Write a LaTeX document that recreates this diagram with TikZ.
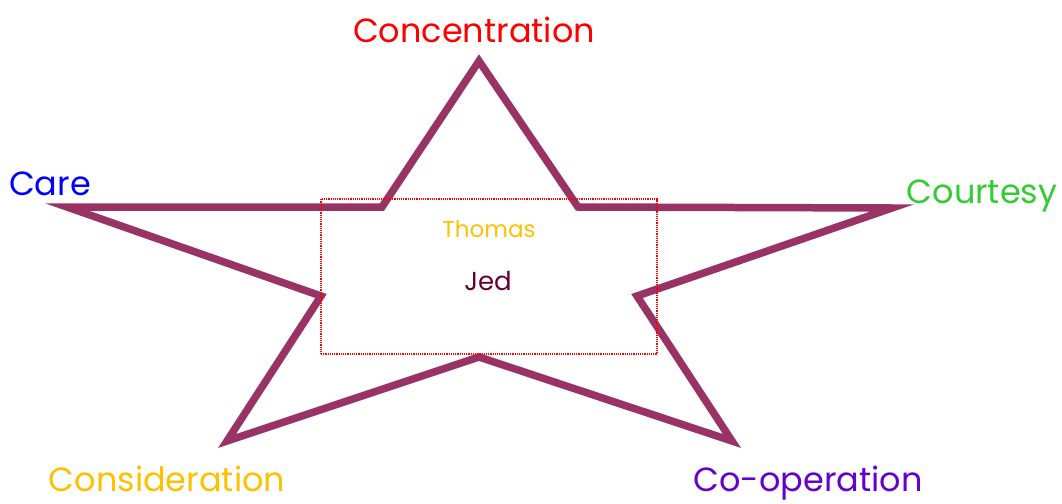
\documentclass[tikz,border=0pt]{standalone}
\usepackage{fontspec}
\setmainfont{Poppins}
\definecolor{starc}{HTML}{993366}
\definecolor{cgreen}{HTML}{33CC33}
\definecolor{cgold}{HTML}{FFC000}
\definecolor{cpurple}{HTML}{6600CC}
\definecolor{jedc}{HTML}{660033}
\begin{document}
\begin{tikzpicture}[x=1pt,y=-1pt,
  lbl/.style={anchor=base,inner sep=0pt,font=\fontsize{33.5}{36}\selectfont},
  small/.style={anchor=base,inner sep=0pt,font=\fontsize{23}{25}\selectfont}]
\useasboundingbox (0,0) rectangle (1062,503);
\coordinate (t) at (479,61);
\coordinate (ul) at (382,207);
\coordinate (l) at (67,207);
\coordinate (ll) at (321,296);
\coordinate (bl) at (227,441);
\coordinate (b) at (479,357);
\coordinate (br) at (732,441);
\coordinate (rl) at (637,296);
\coordinate (r) at (892,208);
\coordinate (ur) at (578,207);
\draw[starc,line width=7.5pt,line join=miter] (t)--(ur)--(r)--(rl)--(br)--(b)--(bl)--(ll)--(l)--(ul)--cycle;
\node[draw=red,densely dotted,line width=1.2pt,minimum width=336pt,minimum height=155pt,inner sep=0pt] (box) at (489,276.5) {};
\node[small,text=cgold] (thomas) at (489,237) {Thomas};
\node[small,text=jedc,font=\fontsize{26}{28}\selectfont] (jed) at (488,290) {Jed};
\node[lbl,text=red] (conc) at (474,43) {Concentration};
\node[lbl,text=blue] (care) at (50,195) {Care};
\node[lbl,text=cgreen] (court) at (982,203) {Courtesy};
\node[lbl,text=cgold] (cons) at (167,491) {Consideration};
\node[lbl,text=cpurple] (coop) at (808,491) {Co-operation};
\end{tikzpicture}
\end{document}
